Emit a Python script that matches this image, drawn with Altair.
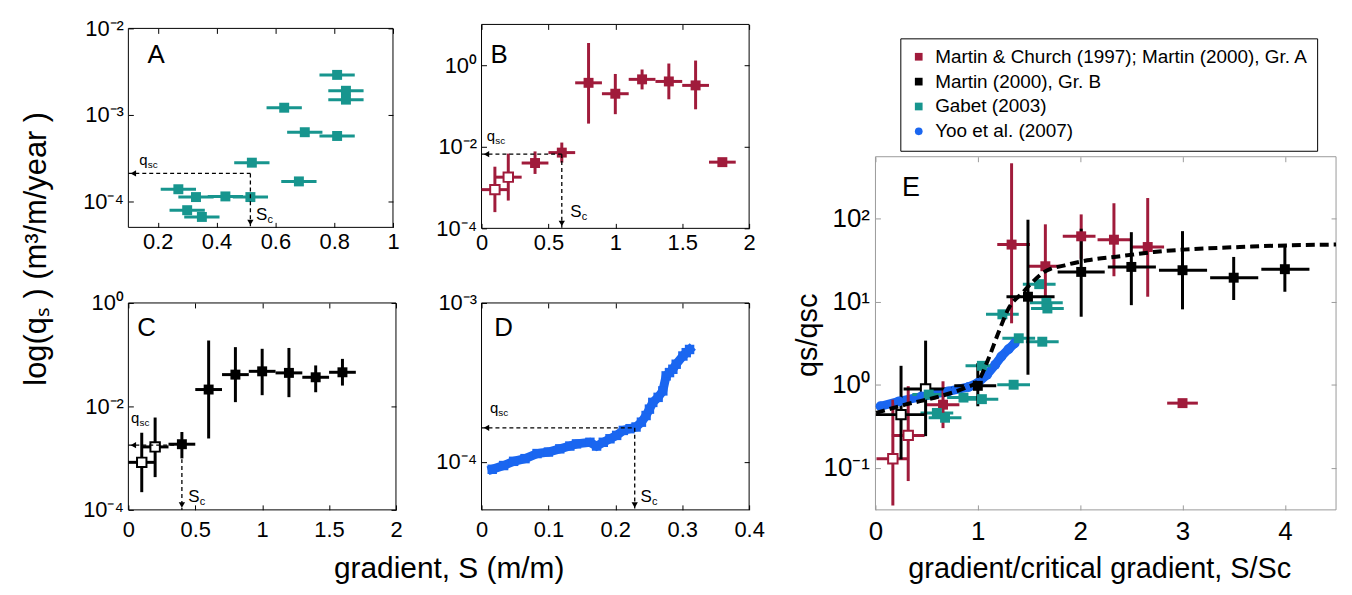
import altair as alt
import pandas as pd

FONT = "Liberation Sans"
W, H = 1330, 570
M = 8
TICK = 5

RED, BLACK, TEAL, BLUE = "#A01B3B", "#000000", "#17958E", "#1A66F0"
EGRAY = "#9a9a9a"

# ---------------- Panel A : Gabet (2003) ----------------
A_S    = [0.27, 0.33, 0.43, 0.515, 0.30, 0.35, 0.52, 0.68, 0.63, 0.70, 0.81, 0.81, 0.84, 0.84]
A_q    = [1.38e-4, 1.12e-4, 1.14e-4, 1.12e-4, 7.9e-5, 6.6e-5, 2.8e-4, 1.7e-4, 1.21e-3, 6.3e-4, 5.7e-4, 2.9e-3, 1.9e-3, 1.5e-3]
A_Serr = [0.06, 0.06, 0.06, 0.06, 0.06, 0.06, 0.06, 0.06, 0.06, 0.06, 0.06, 0.06, 0.06, 0.06]
A_Sc, A_qsc = 0.515, 2.1e-4

# ---------------- Panel B : Martin & Church (1997); Martin (2000) Gr. A ----------------
B_open_S   = [0.1, 0.2]
B_open_q   = [8.9e-4, 1.8e-3]
B_open_qlo = [2.5e-4, 4.8e-4]
B_open_qhi = [3.25e-3, 6.8e-3]
B_S   = [0.4, 0.6, 0.8, 1.0, 1.2, 1.4, 1.6, 1.8]
B_q   = [4.0e-3, 7.2e-3, 0.37, 0.20, 0.45, 0.40, 0.32, 4.2e-3]
B_qlo = [2.16e-3, 4.1e-3, 0.037, 0.063, 0.255, 0.146, 0.083, None]
B_qhi = [7.7e-3, 1.27e-2, 3.5, 0.61, 0.785, 1.1, 1.3, None]
B_Serr = 0.1
B_Sc, B_qsc = 0.6, 6.6e-3

# ---------------- Panel C : Martin (2000) Gr. B ----------------
C_open_S   = [0.1, 0.2]
C_open_q   = [8.3e-4, 1.65e-3]
C_open_qlo = [2.2e-4, 4.3e-4]
C_open_qhi = [3.1e-3, 6.1e-3]
C_S   = [0.4, 0.6, 0.8, 1.0, 1.2, 1.4, 1.6]
C_q   = [1.86e-3, 0.0212, 0.0412, 0.0477, 0.0445, 0.0366, 0.0457]
C_qlo = [9.9e-4, 2.4e-3, 0.0121, 0.0165, 0.0151, 0.0188, 0.0253]
C_qhi = [3.2e-3, 0.188, 0.14, 0.13, 0.135, 0.062, 0.083]
C_Serr = 0.1
C_Sc, C_qsc = 0.4, 1.78e-3

# ---------------- Panel D : Yoo et al. (2007) ----------------
D_S = [0.016, 0.033, 0.048, 0.065, 0.083, 0.100, 0.117, 0.132, 0.142, 0.162, 0.172, 0.182, 0.192, 0.202, 0.212,
       0.222, 0.231, 0.239, 0.246, 0.251, 0.256, 0.264, 0.271, 0.276, 0.281, 0.286, 0.291, 0.301, 0.306, 0.311]
D_q = [9.0e-5, 9.5e-5, 1.01e-4, 1.05e-4, 1.13e-4, 1.155e-4, 1.21e-4, 1.26e-4, 1.30e-4, 1.33e-4, 1.26e-4, 1.33e-4,
       1.40e-4, 1.47e-4, 1.58e-4, 1.62e-4, 1.66e-4, 1.78e-4, 1.96e-4, 2.15e-4, 2.37e-4, 2.55e-4, 2.8e-4, 3.48e-4,
       3.65e-4, 3.83e-4, 4.12e-4, 4.64e-4, 4.87e-4, 5.1e-4]
D_Sc, D_qsc = 0.229, 1.64e-4

# ---------------- Panel E : normalised ----------------
SERIES = ["Martin & Church (1997); Martin (2000), Gr. A", "Martin (2000), Gr. B", "Gabet (2003)", "Yoo et al. (2007)"]
COLORS = [RED, BLACK, TEAL, BLUE]
SHAPES = ["square", "square", "square", "circle"]

E_red_x   = [0.66, 1.33, 1.66, 2.01, 2.33, 2.66, 3.00]
E_red_y   = [0.575, 48.9, 26.8, 61.5, 56.0, 45.7, 0.60]
E_red_xlo = [0.50, 1.19, 1.50, 1.83, 2.17, 2.50, 2.85]
E_red_xhi = [0.82, 1.51, 1.81, 2.15, 2.50, 2.82, 3.15]
E_red_ylo = [0.30, 5.5, 8.7, 33.0, 20.3, 11.5, None]
E_red_yhi = [1.1, 467.0, 85.8, 113.0, 154.0, 178.0, None]

E_redo_x   = [0.17, 0.32]
E_redo_y   = [0.128, 0.245]
E_redo_xlo = [0.01, 0.16]
E_redo_xhi = [0.32, 0.48]
E_redo_ylo = [0.035, 0.069]
E_redo_yhi = [0.66, 0.96]

E_blk_x   = [1.0, 1.49, 2.01, 2.50, 3.00, 3.50, 4.00]
E_blk_y   = [0.97, 11.5, 22.9, 26.3, 24.0, 19.5, 24.7]
E_blk_xlo = [0.77, 1.28, 1.78, 2.27, 2.77, 3.27, 3.77]
E_blk_xhi = [1.18, 1.75, 2.24, 2.74, 3.24, 3.74, 4.24]
E_blk_ylo = [0.55, 1.32, 6.6, 9.1, 8.1, 10.5, 13.2]
E_blk_yhi = [1.82, 97.5, 76.0, 69.0, 71.0, 34.7, 48.0]

E_blko_x   = [0.25, 0.49]
E_blko_y   = [0.436, 0.89]
E_blko_xlo = [0.004, 0.275]
E_blko_xhi = [0.49, 0.745]
E_blko_ylo = [0.126, 0.24]
E_blko_yhi = [1.69, 3.4]

E_teal_x   = [0.52, 0.60, 0.68, 0.86, 1.04, 1.04, 1.35, 1.24, 1.40, 1.63, 1.60, 1.67, 1.68]
E_teal_y   = [0.76, 0.457, 0.40, 0.70, 0.67, 1.69, 1.0, 7.06, 3.63, 3.3, 16.3, 9.7, 8.3]
E_teal_err = [0.16, 0.16, 0.16, 0.16, 0.16, 0.16, 0.16, 0.16, 0.16, 0.16, 0.16, 0.16, 0.16]

E_yoo_x = [0.05, 0.23, 0.45, 0.71, 0.91, 1.0, 1.09, 1.17, 1.23, 1.30, 1.36]
E_yoo_y = [0.55, 0.63, 0.72, 0.83, 0.94, 1.05, 1.32, 1.74, 2.19, 2.68, 3.16]

E_fit_x = [0.007, 0.29, 0.62, 0.87, 1.0, 1.10, 1.20, 1.31, 1.43, 1.52, 1.65, 1.85, 2.07, 2.40, 2.72, 3.01, 3.56, 4.05, 4.5]
E_fit_y = [0.457, 0.575, 0.72, 0.91, 1.1, 2.0, 4.2, 8.7, 12.6, 16.6, 22.9, 27.5, 31.6, 35.5, 39.8, 42.5, 45.7, 47.9, 48.9]

# annotation anchors (data coordinates)
LETTERS = {"A": (0.165, 4.0e-3), "B": (0.067, 1.12), "C": (0.067, 0.225), "D": (0.019, 6.2e-4), "E": (0.26, 190.0)}
QLAB = {"A": (0.137, 2.66e-4), "B": (0.04, 1.4e-2), "C": (0.02, 4.7e-3), "D": (0.0125, 2.03e-4)}
SLAB = {"A": (0.534, 6.1e-5), "B": (0.664, 1.89e-4), "C": (0.448, 1.44e-4), "D": (0.2376, 5.57e-5)}

# panel frames (page pixels) and domains
GEO = {
    "A": dict(x0=129, x1=395, y0=27, y1=227, xdom=[0.1, 1.0], ydom=[5e-5, 1e-2]),
    "B": dict(x0=484, x1=753, y0=23, y1=228, xdom=[0.0, 2.0], ydom=[1e-4, 10.0]),
    "C": dict(x0=129, x1=398, y0=303, y1=511, xdom=[0.0, 2.0], ydom=[1e-4, 1.0]),
    "D": dict(x0=484, x1=753, y0=303, y1=511, xdom=[0.0, 0.4], ydom=[5e-5, 1e-3]),
    "E": dict(x0=880, x1=1343, y0=156, y1=511, xdom=[0.0, 4.5], ydom=[0.031, 560.0]),
}

SUP = str.maketrans("-0123456789", "⁻⁰¹²³⁴⁵⁶⁷⁸⁹")


def log_expr(exps):
    expr = "''"
    for e in exps:
        lab = "10" + str(e).translate(SUP)
        expr = f"abs(log(datum.value)/LN10-({e}))<0.01 ? '{lab}' : " + expr
    return expr


def build(key, xvals, yexps, fs, lpx, lpy, frame_color, xtitle, ytitle, body):
    g = GEO[key]
    x0, x1, y0, y1 = g["x0"] - M, g["x1"] - M, g["y0"] - M, g["y1"] - M
    xs = alt.Scale(domain=g["xdom"], range=[x0, x1], nice=False, zero=False)
    ys = alt.Scale(type="log", domain=g["ydom"], range=[y1, y0], nice=False)
    yv = [10.0 ** e for e in yexps]
    common = dict(domain=False, grid=False, tickSize=TICK, tickWidth=1, tickColor=frame_color,
                  labelFontSize=fs, labelColor="black", labelFlush=False, labelOverlap=False)
    bottom = alt.Axis(orient="bottom", offset=-(H - y1) - TICK, values=xvals, format="~g",
                      labelPadding=lpx, **xtitle, **common)
    left = alt.Axis(orient="left", offset=-x0 - TICK, values=yv, labelExpr=log_expr(yexps),
                    labelPadding=lpy, **ytitle, **common)
    top = alt.Axis(orient="top", offset=-y0 - TICK, values=xvals, labels=False, title=None, **common)
    right = alt.Axis(orient="right", offset=-(W - x1) - TICK, values=yv, labels=False, title=None, **common)

    def X(f, axis=None):
        return alt.X(f, type="quantitative", scale=xs, axis=axis)

    def Y(f, axis=None):
        return alt.Y(f, type="quantitative", scale=ys, axis=axis)

    fdf = pd.DataFrame({"a": [g["xdom"][0]], "b": [g["xdom"][1]], "c": [g["ydom"][0]], "d": [g["ydom"][1]]})
    frame = alt.Chart(fdf).mark_rect(fillOpacity=0, stroke=frame_color, strokeWidth=1).encode(
        x=X("a", top), x2="b", y=Y("c", right), y2="d")
    layers = body(g, X, Y, bottom, left)
    return alt.layer(frame, *layers)


def hbars(X, Y, x, y, lo, hi, color, w=3):
    df = pd.DataFrame({"lo": lo, "hi": hi, "y": y})
    return alt.Chart(df).mark_rule(color=color, strokeWidth=w).encode(x=X("lo"), x2="hi", y=Y("y"))


def vbars(X, Y, x, lo, hi, color, w=3):
    rows = [(a, b, c) for a, b, c in zip(x, lo, hi) if b is not None]
    df = pd.DataFrame(rows, columns=["x", "lo", "hi"])
    return alt.Chart(df).mark_rule(color=color, strokeWidth=w).encode(x=X("x"), y=Y("lo"), y2="hi")


def squares(X, Y, x, y, color, size, open_=False, xa=None, ya=None):
    df = pd.DataFrame({"x": x, "y": y})
    if open_:
        mk = alt.Chart(df).mark_square(size=size, fill="white", stroke=color, strokeWidth=2, opacity=1)
    else:
        mk = alt.Chart(df).mark_square(size=size, color=color, opacity=1)
    return mk.encode(x=X("x", xa), y=Y("y", ya))


def txt(X, Y, pos, s, size, dx=0, dy=0):
    df = pd.DataFrame({"x": [pos[0]], "y": [pos[1]]})
    return alt.Chart(df).mark_text(text=s, fontSize=size, font=FONT, align="left", baseline="alphabetic",
                                   dx=dx, dy=dy, color="black").encode(x=X("x"), y=Y("y"))


def qsc_layers(key, g, X, Y, Sc, qsc):
    xmin, ymin = g["xdom"][0], g["ydom"][0]
    dash = [4, 3]
    hdf = pd.DataFrame({"x": [xmin], "x2": [Sc], "y": [qsc]})
    vdf = pd.DataFrame({"x": [Sc], "y": [qsc], "y2": [ymin]})
    return [
        alt.Chart(hdf).mark_rule(strokeDash=dash, strokeWidth=1.3, color="black").encode(x=X("x"), x2="x2", y=Y("y")),
        alt.Chart(vdf).mark_rule(strokeDash=dash, strokeWidth=1.3, color="black").encode(x=X("x"), y=Y("y"), y2="y2"),
        alt.Chart(pd.DataFrame({"x": [xmin], "y": [qsc]})).mark_point(
            shape="triangle-left", filled=True, size=40, color="black", opacity=1, xOffset=5).encode(x=X("x"), y=Y("y")),
        alt.Chart(pd.DataFrame({"x": [Sc], "y": [ymin]})).mark_point(
            shape="triangle-down", filled=True, size=40, color="black", opacity=1, yOffset=-5).encode(x=X("x"), y=Y("y")),
        txt(X, Y, QLAB[key], "q", 15),
        txt(X, Y, QLAB[key], "sc", 10, dx=8.5, dy=3),
        txt(X, Y, SLAB[key], "S", 17),
        txt(X, Y, SLAB[key], "c", 11, dx=11.5, dy=3),
        txt(X, Y, LETTERS[key], key, 26),
    ]


NOTITLE = {"title": None}


def body_A(g, X, Y, bottom, left):
    lo = [s - e for s, e in zip(A_S, A_Serr)]
    hi = [s + e for s, e in zip(A_S, A_Serr)]
    return [hbars(X, Y, A_S, A_q, lo, hi, TEAL),
            squares(X, Y, A_S, A_q, TEAL, 100, xa=bottom, ya=left)] + qsc_layers("A", g, X, Y, A_Sc, A_qsc)


def body_B(g, X, Y, bottom, left):
    L = [hbars(X, Y, B_open_S, B_open_q, [s - B_Serr for s in B_open_S], [s + B_Serr for s in B_open_S], RED),
         vbars(X, Y, B_open_S, B_open_qlo, B_open_qhi, RED),
         hbars(X, Y, B_S, B_q, [s - B_Serr for s in B_S], [s + B_Serr for s in B_S], RED),
         vbars(X, Y, B_S, B_qlo, B_qhi, RED),
         squares(X, Y, B_open_S, B_open_q, RED, 90, open_=True),
         squares(X, Y, B_S, B_q, RED, 100, xa=bottom, ya=left)]
    return L + qsc_layers("B", g, X, Y, B_Sc, B_qsc)


def body_C(g, X, Y, bottom, left):
    L = [hbars(X, Y, C_open_S, C_open_q, [s - C_Serr for s in C_open_S], [s + C_Serr for s in C_open_S], BLACK),
         vbars(X, Y, C_open_S, C_open_qlo, C_open_qhi, BLACK),
         hbars(X, Y, C_S, C_q, [s - C_Serr for s in C_S], [s + C_Serr for s in C_S], BLACK),
         vbars(X, Y, C_S, C_qlo, C_qhi, BLACK),
         squares(X, Y, C_open_S, C_open_q, BLACK, 90, open_=True),
         squares(X, Y, C_S, C_q, BLACK, 100, xa=bottom, ya=left)]
    return L + qsc_layers("C", g, X, Y, C_Sc, C_qsc)


def body_D(g, X, Y, bottom, left):
    df = pd.DataFrame({"x": D_S, "y": D_q})
    L = [alt.Chart(df).mark_line(color=BLUE, strokeWidth=9, strokeCap="square").encode(x=X("x"), y=Y("y")),
         squares(X, Y, D_S, D_q, BLUE, 90, xa=bottom, ya=left)]
    return L + qsc_layers("D", g, X, Y, D_Sc, D_qsc)


def body_E(g, X, Y, bottom, left):
    L = []
    yoo = pd.DataFrame({"x": E_yoo_x, "y": E_yoo_y})
    L.append(alt.Chart(yoo).mark_line(color=BLUE, strokeWidth=9, strokeCap="round").encode(x=X("x"), y=Y("y")))
    L.append(hbars(X, Y, E_teal_x, E_teal_y, [a - e for a, e in zip(E_teal_x, E_teal_err)],
                   [a + e for a, e in zip(E_teal_x, E_teal_err)], TEAL))
    L.append(hbars(X, Y, E_redo_x, E_redo_y, E_redo_xlo, E_redo_xhi, RED))
    L.append(vbars(X, Y, E_redo_x, E_redo_ylo, E_redo_yhi, RED))
    L.append(hbars(X, Y, E_red_x, E_red_y, E_red_xlo, E_red_xhi, RED))
    L.append(vbars(X, Y, E_red_x, E_red_ylo, E_red_yhi, RED))
    L.append(hbars(X, Y, E_blko_x, E_blko_y, E_blko_xlo, E_blko_xhi, BLACK))
    L.append(vbars(X, Y, E_blko_x, E_blko_ylo, E_blko_yhi, BLACK))
    L.append(hbars(X, Y, E_blk_x, E_blk_y, E_blk_xlo, E_blk_xhi, BLACK))
    L.append(vbars(X, Y, E_blk_x, E_blk_ylo, E_blk_yhi, BLACK))
    L.append(squares(X, Y, E_redo_x, E_redo_y, RED, 90, open_=True))
    L.append(squares(X, Y, E_blko_x, E_blko_y, BLACK, 90, open_=True))

    rows = ([(SERIES[3], a, b) for a, b in zip(E_yoo_x, E_yoo_y)]
            + [(SERIES[0], a, b) for a, b in zip(E_red_x, E_red_y)]
            + [(SERIES[1], a, b) for a, b in zip(E_blk_x, E_blk_y)]
            + [(SERIES[2], a, b) for a, b in zip(E_teal_x, E_teal_y)])
    pts = pd.DataFrame(rows, columns=["series", "x", "y"])
    leg = alt.Legend(title=None, orient="none", legendX=897, legendY=29, labelFontSize=19, labelFont=FONT,
                     symbolSize=60, strokeColor="black", fillColor="white", padding=9, rowPadding=5,
                     labelLimit=600, symbolStrokeWidth=0, labelOffset=7, labelColor="black")
    L.append(alt.Chart(pts).mark_point(filled=True, size=100, opacity=1).encode(
        x=X("x", bottom), y=Y("y", left),
        color=alt.Color("series:N", scale=alt.Scale(domain=SERIES, range=COLORS), legend=leg),
        shape=alt.Shape("series:N", scale=alt.Scale(domain=SERIES, range=SHAPES), legend=leg)))
    fit = pd.DataFrame({"x": E_fit_x, "y": E_fit_y})
    L.append(alt.Chart(fit).mark_line(color="black", strokeWidth=4, strokeDash=[9, 5], interpolate="monotone").encode(
        x=X("x"), y=Y("y")))
    L.append(txt(X, Y, LETTERS["E"], "E", 27))
    return L


ytitle_A = dict(title="log(qₛ ) (m³/m/year )", titleX=-97, titleY=240, titleAngle=270,
                titleAlign="center", titleBaseline="middle", titleFontSize=31)
xtitle_C = dict(title="gradient, S (m/m)", titleX=443, titleY=73, titleAngle=0,
                titleAlign="center", titleBaseline="alphabetic", titleFontSize=30)
xtitle_E = dict(title="gradient/critical gradient,  S/Sc", titleX=1097, titleY=73, titleAngle=0,
                titleAlign="center", titleBaseline="alphabetic", titleFontSize=29)
ytitle_E = dict(title="qs/qsc", titleX=-73, titleY=327, titleAngle=270,
                titleAlign="center", titleBaseline="middle", titleFontSize=29)

pA = build("A", [0.2, 0.4, 0.6, 0.8, 1.0], [-4, -3, -2], 22, 4, 5, "black", NOTITLE, ytitle_A, body_A)
pB = build("B", [0, 0.5, 1, 1.5, 2], [-4, -2, 0], 22, 4, 5, "black", NOTITLE, NOTITLE, body_B)
pC = build("C", [0, 0.5, 1, 1.5, 2], [-4, -2, 0], 22, 10, 5, "black", xtitle_C, NOTITLE, body_C)
pD = build("D", [0, 0.1, 0.2, 0.3, 0.4], [-4, -3], 22, 10, 5, "black", NOTITLE, NOTITLE, body_D)
pE = build("E", [0, 1, 2, 3, 4], [-1, 0, 1, 2], 26, 9, 6, EGRAY, xtitle_E, ytitle_E, body_E)

chart = (alt.layer(pA, pB, pC, pD, pE)
         .resolve_scale(x="independent", y="independent")
         .properties(width=W, height=H, padding=0)
         .configure_view(stroke="transparent")
         .configure_axis(labelFont=FONT, titleFont=FONT, titleFontWeight="normal", titleColor="black"))

chart.save("out.html", embed_options={"renderer": "svg", "actions": False})
